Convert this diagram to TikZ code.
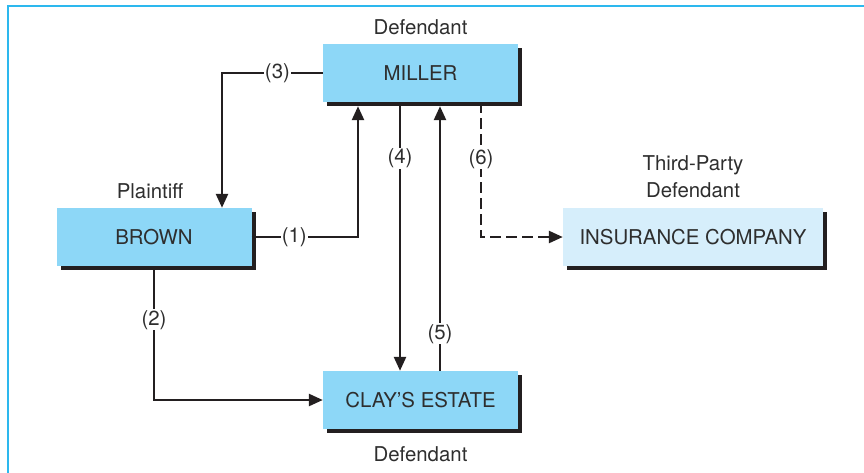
\documentclass[tikz,border=0pt]{standalone}
\usepackage{fontspec}
\setmainfont{TeX Gyre Heros}
\usetikzlibrary{arrows.meta,shadows}
\definecolor{boxblue}{HTML}{8DD7F7}
\definecolor{boxpale}{HTML}{D6EEFB}
\definecolor{framecyan}{HTML}{2DB8EE}
\definecolor{ink}{HTML}{231F20}
\definecolor{txt}{HTML}{2E2E2E}
\newcommand{\labfont}{\fontsize{20.4}{24}\selectfont}
\begin{document}
\begin{tikzpicture}[x=1pt,y=-1pt,
  party/.style={fill=boxblue, minimum width=195pt, minimum height=58pt,
    inner sep=0pt, text=txt, font=\labfont,
    drop shadow={shadow xshift=4pt, shadow yshift=-4pt, fill=ink, opacity=1}},
  role/.style={text=txt, font=\labfont, inner sep=0pt, anchor=base},
  link/.style={draw=ink, line width=2.5pt, -{Triangle[length=14pt,width=12pt]}},
  tag/.style={fill=white, text=txt, font=\labfont, inner sep=1pt}]
  \useasboundingbox (0,0) rectangle (864,472);

  % page frame
  \draw[framecyan, line width=2pt] (8,473) -- (8,6) -- (865,6);

  % parties
  \node[party] (miller) at (420.5,73) {MILLER};
  \node[party] (brown) at (154,237) {BROWN};
  \node[party] (clay) at (420.5,400) {CLAY'S ESTATE};
  \node[party, fill=boxpale, minimum width=260pt] (insurer) at (693,237) {INSURANCE COMPANY};

  % roles
  \node[role] (rmiller) at (420.5,34) {Defendant};
  \node[role] (rbrown) at (150,198) {Plaintiff};
  \node[role] (rins1) at (693,170) {Third-Party};
  \node[role] (rins2) at (693,197) {Defendant};
  \node[role] (rclay) at (420.5,461) {Defendant};

  % claims
  \draw[link] (miller.west) -| node[tag, pos=0.225] {(3)} ([xshift=68pt]brown.north);
  \draw[link] (brown.east) -| node[tag, pos=0.2] {(1)} ([xshift=-62.5pt, yshift=-4pt]miller.south);
  \draw[link] (brown.south) |- node[tag, pos=0.2] {(2)} (clay.west);
  \draw[link] ([xshift=-20.5pt]miller.south) -- node[tag, pos=0.21] {(4)} ([xshift=-20.5pt]clay.north);
  \draw[link] ([xshift=19.5pt]clay.north) -- node[tag, pos=0.14] {(5)} ([xshift=19.5pt, yshift=-4pt]miller.south);
  \draw[link, dash pattern=on 11pt off 5pt] ([xshift=60.5pt]miller.south) |- node[tag, pos=0.21] {(6)} (insurer.west);
\end{tikzpicture}
\end{document}
